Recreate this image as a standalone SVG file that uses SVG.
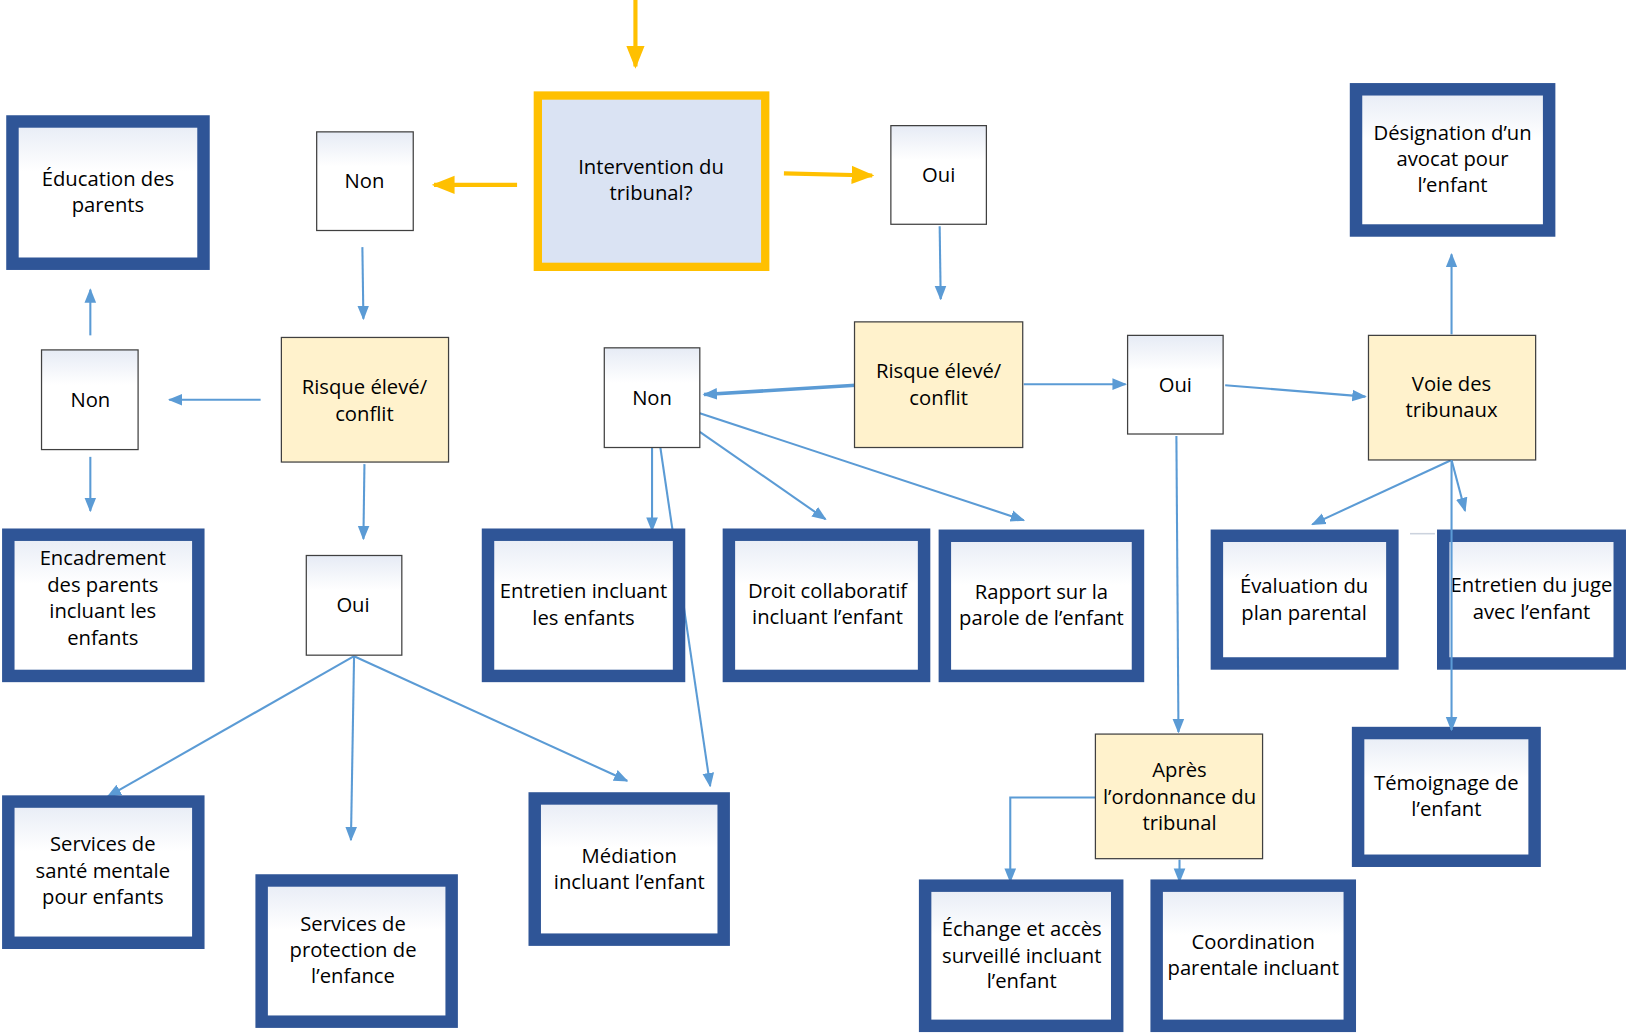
<svg xmlns="http://www.w3.org/2000/svg" width="1626" height="1033" viewBox="0 0 1626 1033">
<defs>
<linearGradient id="g" x1="0" y1="0" x2="0" y2="1"><stop offset="0" stop-color="#e6ebf5"/><stop offset="0.35" stop-color="#ffffff"/></linearGradient>
<marker id="ay" viewBox="0 0 10 10" refX="9" refY="5" markerWidth="22" markerHeight="22" orient="auto" markerUnits="userSpaceOnUse"><path d="M0,1 L10,5 L0,9 z" fill="#FFC000"/></marker>
<marker id="b2" viewBox="0 0 10 10" refX="9" refY="5" markerWidth="14" markerHeight="14" orient="auto" markerUnits="userSpaceOnUse"><path d="M0,1 L10,5 L0,9 z" fill="#5B9BD5"/></marker>
</defs>
<style>
text{font-family:"Open Sans","Liberation Sans",sans-serif;font-size:19.5px;fill:#000;text-anchor:middle}
.blue{fill:url(#g);stroke:#2F5597;stroke-width:12}
.wh{fill:url(#g);stroke:#404040;stroke-width:1.2}
.ye{fill:#FFF2CC;stroke:#404040;stroke-width:1.2}
.c{fill:none;stroke:#5B9BD5;stroke-width:2;marker-end:url(#b2)}
.y{fill:none;stroke:#FFC000;stroke-width:4;marker-end:url(#ay)}
</style>
<rect width="1626" height="1033" fill="#fff"/>
<g transform="scale(1.0383)">
<g id="connectors">
<path class="y" d="M612,0 V64"/>
<path class="y" d="M498,178 H418"/>
<path class="y" d="M755,167 L840,169"/>
<path class="c" d="M349,238 L350,307"/>
<path class="c" d="M251,385 H163"/>
<path class="c" d="M87,323 V279"/>
<path class="c" d="M87,440 V492"/>
<path class="c" d="M351,447 L350,519"/>
<path class="c" d="M341,632 L104,767"/>
<path class="c" d="M341,632 L338,809"/>
<path class="c" d="M341,632 L604,752"/>
<path class="c" d="M905,218 L906,288"/>
<path class="c" style="stroke-width:3.5" d="M824,371 L678,380"/>
<path class="c" d="M986,370 H1084"/>
<path class="c" d="M1180,371 L1315,382"/>
<path class="c" d="M1398,322 V245"/>
<path class="c" d="M628,431 V511"/>
<path class="c" d="M636,431 L684,757"/>
<path class="c" d="M674,416 L795,500"/>
<path class="c" d="M674,398 L986,501"/>
<path class="c" d="M1133,420 L1135,705"/>
<path class="c" d="M1398,443 L1264,505"/>
<path class="c" d="M1398,443 L1411,492"/>
<path d="M1358,514 H1382" stroke="#ccd3de" stroke-width="1.5"/>
<path class="c" d="M1055,768 H973 V849"/>
<path class="c" d="M1136,828 V849"/>
</g>
<g id="main"><rect x="518" y="92" width="219" height="165" fill="#DAE3F3" stroke="#FFC000" stroke-width="8"/><text x="627" y="168">Intervention du</text><text x="627" y="193">tribunal?</text></g>
<g id="non1"><rect class="wh" x="305" y="127" width="93" height="95"/><text x="351" y="181">Non</text></g>
<g id="oui1"><rect class="wh" x="858" y="121" width="92" height="95"/><text x="904" y="175">Oui</text></g>
<g id="non2"><rect class="wh" x="40" y="337" width="93" height="96"/><text x="87" y="392">Non</text></g>
<g id="oui2"><rect class="wh" x="295" y="535" width="92" height="96"/><text x="340" y="589">Oui</text></g>
<g id="non3"><rect class="wh" x="582" y="335" width="92" height="96"/><text x="628" y="390">Non</text></g>
<g id="oui3"><rect class="wh" x="1086" y="323" width="92" height="95"/><text x="1132" y="378">Oui</text></g>
<g id="risque1"><rect class="ye" x="271" y="325" width="161" height="120"/><text x="351" y="379">Risque élevé/</text><text x="351" y="405">conflit</text></g>
<g id="risque2"><rect class="ye" x="823" y="310" width="162" height="121"/><text x="904" y="364">Risque élevé/</text><text x="904" y="390">conflit</text></g>
<g id="voie"><rect class="ye" x="1318" y="323" width="161" height="120"/><text x="1398" y="377">Voie des</text><text x="1398" y="402">tribunaux</text></g>
<g id="apres"><rect class="ye" x="1055" y="707" width="161" height="120"/><text x="1136" y="748">Après</text><text x="1136" y="774">l’ordonnance du</text><text x="1136" y="799">tribunal</text></g>
<g id="education"><rect class="blue" x="12" y="117" width="184" height="137"/><text x="104" y="179">Éducation des</text><text x="104" y="204">parents</text></g>
<g id="encadrement"><rect class="blue" x="8" y="515" width="183" height="136"/><text x="99" y="544">Encadrement</text><text x="99" y="570">des parents</text><text x="99" y="595">incluant les</text><text x="99" y="621">enfants</text></g>
<g id="sante"><rect class="blue" x="8" y="772" width="183" height="136"/><text x="99" y="820">Services de</text><text x="99" y="846">santé mentale</text><text x="99" y="871">pour enfants</text></g>
<g id="protection"><rect class="blue" x="252" y="848" width="183" height="136"/><text x="340" y="897">Services de</text><text x="340" y="922">protection de</text><text x="340" y="947">l’enfance</text></g>
<g id="mediation"><rect class="blue" x="515" y="769" width="182" height="136"/><text x="606" y="831">Médiation</text><text x="606" y="856">incluant l’enfant</text></g>
<g id="entretien"><rect class="blue" x="470" y="515" width="184" height="136"/><text x="562" y="576">Entretien incluant</text><text x="562" y="602">les enfants</text></g>
<g id="droit"><rect class="blue" x="702" y="515" width="188" height="136"/><text x="797" y="576">Droit collaboratif</text><text x="797" y="601">incluant l’enfant</text></g>
<g id="rapport"><rect class="blue" x="910" y="516" width="186" height="135"/><text x="1003" y="577">Rapport sur la</text><text x="1003" y="602">parole de l’enfant</text></g>
<g id="evaluation"><rect class="blue" x="1172" y="516" width="169" height="123"/><text x="1256" y="571">Évaluation du</text><text x="1256" y="597">plan parental</text></g>
<g id="juge"><rect class="blue" x="1390" y="516" width="170" height="123"/><text x="1475" y="570">Entretien du juge</text><text x="1475" y="596">avec l’enfant</text></g>
<g id="temoignage"><rect class="blue" x="1308" y="706" width="170" height="123"/><text x="1393" y="761">Témoignage de</text><text x="1393" y="786">l’enfant</text></g>
<g id="designation"><rect class="blue" x="1306" y="86" width="186" height="136"/><text x="1399" y="135">Désignation d’un</text><text x="1399" y="160">avocat pour</text><text x="1399" y="185">l’enfant</text></g>
<g id="echange"><rect class="blue" x="891" y="853" width="185" height="135"/><text x="984" y="901">Échange et accès</text><text x="984" y="927">surveillé incluant</text><text x="984" y="952">l’enfant</text></g>
<g id="coordination"><rect class="blue" x="1114" y="853" width="186" height="135"/><text x="1207" y="914">Coordination</text><text x="1207" y="939">parentale incluant</text></g>
<path class="c" d="M1398,443 V703"/>
</g>
</svg>
